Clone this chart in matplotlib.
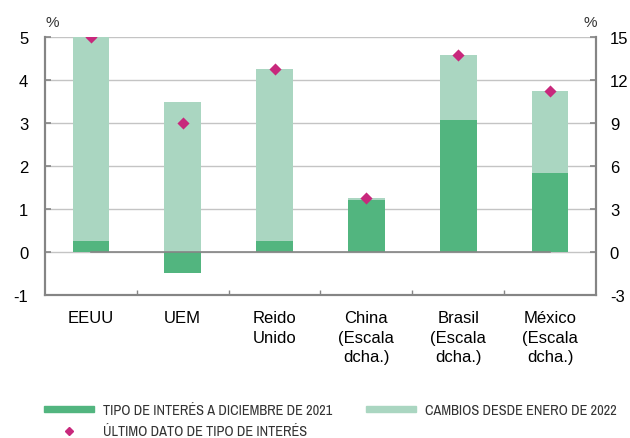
import matplotlib.pyplot as plt
from matplotlib.patches import Patch
from matplotlib.lines import Line2D

# categories (first three on left scale, last three on right scale)
paises = ['EEUU', 'UEM', 'Reido\nUnido', 'China\n(Escala\ndcha.)',
          'Brasil\n(Escala\ndcha.)', 'México\n(Escala\ndcha.)']
# left-scale values
tipo_dic21_izq = [0.25, -0.5, 0.25]
cambios_izq = [4.75, 4.0, 4.0]
ultimo_izq = [5.0, 3.0, 4.25]
# right-scale values
tipo_dic21_dcha = [3.65, 9.25, 5.5]
cambios_dcha = [0.15, 4.5, 5.75]
ultimo_dcha = [3.8, 13.75, 11.25]

c_dark = '#52b57f'
c_light = '#aad6c1'
c_diam = '#c8287c'
c_axis = '#858585'
c_grid = '#c4c4c4'
w = 0.4

plt.rcParams['font.family'] = ['Liberation Sans', 'DejaVu Sans']
plt.rcParams['axes.unicode_minus'] = False

fig = plt.figure(figsize=(6.3, 4.39), dpi=100)
ax = fig.add_axes([0.0714, 0.326, 0.8746, 0.587])
ax2 = ax.twinx()


def draw(a, xs, dec, chg, last):
    bottoms = [max(d, 0) for d in dec]
    heights = [d + c - b for d, c, b in zip(dec, chg, bottoms)]
    a.bar(xs, dec, width=w, color=c_dark, zorder=2)
    a.bar(xs, heights, bottom=bottoms, width=w, color=c_light, zorder=2)
    a.scatter(xs, last, marker='D', s=38, color=c_diam, zorder=4, linewidths=0)


draw(ax, [0, 1, 2], tipo_dic21_izq, cambios_izq, ultimo_izq)
draw(ax2, [3, 4, 5], tipo_dic21_dcha, cambios_dcha, ultimo_dcha)

ax.set_ylim(-1, 5)
ax2.set_ylim(-3, 15)
ax.set_xlim(-0.5, 5.5)
ax.set_yticks(range(-1, 6))
ax2.set_yticks(range(-3, 16, 3))
for y in range(0, 6):
    ax.axhline(y, color=c_grid, lw=1.0, zorder=0)
# zero line only between first and last category
ax2.plot([0, 5], [0, 0], color=c_axis, lw=1.2, zorder=3)

ax.set_xticks(range(6))
ax.set_xticklabels(paises, fontsize=12, linespacing=1.38)
ax.set_xticks([0.5, 1.5, 2.5, 3.5, 4.5], minor=True)
ax.tick_params(axis='x', which='major', length=0, pad=11)
ax.tick_params(axis='x', which='minor', length=3.5, direction='in', color=c_axis, width=1)
ax.tick_params(axis='y', labelsize=12, length=4, direction='in', color=c_axis, width=1.2, pad=12)
ax2.tick_params(axis='y', labelsize=12, length=4, direction='in', color=c_axis, width=1.2, pad=10)

for a in (ax, ax2):
    a.spines['top'].set_visible(False)
    for s in ('left', 'right', 'bottom'):
        a.spines[s].set_color(c_axis)
        a.spines[s].set_linewidth(1.5)

fig.text(0.083, 0.948, '%', fontsize=11, ha='center', va='center', color='#333333')
fig.text(0.937, 0.948, '%', fontsize=11, ha='center', va='center', color='#333333')

leg_font = {'family': ['Archivo Narrow', 'DejaVu Sans'], 'size': 10.3}
handles = [Patch(color=c_dark, label='TIPO DE INTERÉS A DICIEMBRE DE 2021'),
           Line2D([], [], marker='D', ls='', color=c_diam, markersize=4,
                  label='ÚLTIMO DATO DE TIPO DE INTERÉS'),
           Patch(color=c_light, label='CAMBIOS DESDE ENERO DE 2022')]
leg = fig.legend(handles=handles, ncol=2, loc='lower left', bbox_to_anchor=(0.049, -0.03),
                 frameon=False, handlelength=3.5, handleheight=0.36,
                 columnspacing=2.35, labelspacing=0.5, handletextpad=0.65,
                 prop=leg_font)
for t in leg.get_texts():
    t.set_color('#333333')

fig.savefig('out.png', dpi=100)
